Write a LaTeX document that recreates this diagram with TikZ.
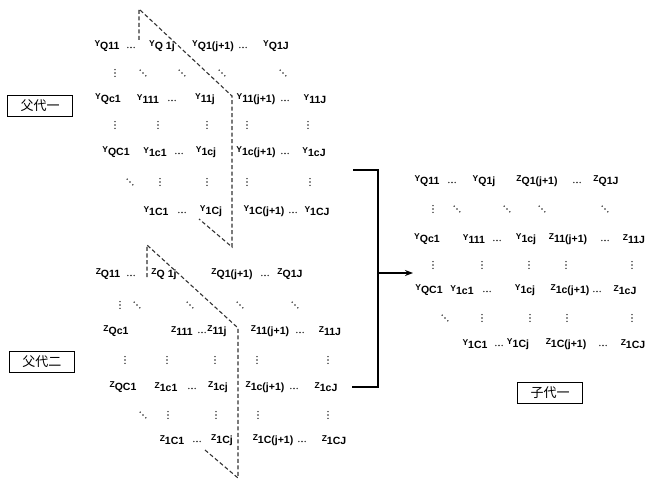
\documentclass[tikz,border=0pt]{standalone}
\usepackage{fontspec}
\setmainfont{Liberation Sans}
\newfontfamily\cjk{Noto Sans CJK SC}
\usetikzlibrary{arrows.meta}
% one matrix element: small letter with a bold, lowered index
\newcommand{\mel}[2]{{\fontsize{8.5}{9}\selectfont\bfseries #1}\raisebox{-3.4pt}{\fontsize{10.5}{11}\selectfont\bfseries #2}}
\tikzset{
  ent/.style={inner sep=0pt},
  slice/.style={draw=black!80, line width=1.1pt, dash pattern=on 4pt off 2.5pt},
  lbl/.style={draw, line width=1.2pt, minimum width=65pt, minimum height=21pt, inner sep=0pt, font=\cjk\fontsize{13}{14}\selectfont},
  link/.style={draw, line width=1.4pt},
  % ellipsis marks drawn as three small dots
  hdts/.pic={\foreach \k in {-1,0,1} \fill[black!85] (\k*3.1,1.5) circle (0.8);},
  vdts/.pic={\foreach \k in {-1,0,1} \fill[black!85] (0,\k*3.4) circle (0.8);},
  ddts/.pic={\foreach \k in {-1,0,1} \fill[black!85] (\k*2.8,\k*2.8) circle (0.8);}
}
\begin{document}
\begin{tikzpicture}[x=1pt,y=-1pt]
\useasboundingbox (0,0) rectangle (654,484);

% ---------- first parent (Y) ----------
\foreach \n/\x/\t in {a/107/{Q11}, c/162/{Q 1j}, d/213/{Q1(j+1)}, f/276/{Q1J}}
  \node[ent] (pa1\n) at (\x,46) {\mel{Y}{\t}};
\foreach \x in {131,243} \pic at (\x,46) {hdts};
\pic at (115,73) {vdts};
\foreach \x in {143,182,222,283} \pic at (\x,73) {ddts};
\foreach \n/\x/\t in {a/108/{Qc1}, b/148/{111}, d/205/{11j}, e/256/{11(j+1)}, g/315/{11J}}
  \node[ent] (pa3\n) at (\x,99) {\mel{Y}{\t}};
\foreach \x in {172,285} \pic at (\x,99) {hdts};
\foreach \x in {115,158,207,247,308} \pic at (\x,125) {vdts};
\foreach \n/\x/\t in {a/116/{QC1}, b/155/{1c1}, d/206/{1cj}, e/256/{1c(j+1)}, g/314/{1cJ}}
  \node[ent] (pa5\n) at (\x,152) {\mel{Y}{\t}};
\foreach \x in {179,285} \pic at (\x,152) {hdts};
\pic at (130,182) {ddts};
\foreach \x in {160,207,247,310} \pic at (\x,182) {vdts};
\foreach \n/\x/\t in {a/156/{1C1}, c/211/{1Cj}, d/264/{1C(j+1)}, f/317/{1CJ}}
  \node[ent] (pa7\n) at (\x,211) {\mel{Y}{\t}};
\foreach \x in {182,293} \pic at (\x,211) {hdts};

\coordinate (sa1) at (139,9);
\coordinate (sa0) at (139,40);
\coordinate (sa2) at (232,96);
\coordinate (sa3) at (232,247);
\coordinate (sa4) at (199,219);
\draw[slice] (sa0) -- (sa1) -- (sa2) -- (sa3) -- (sa4);

% ---------- second parent (Z) ----------
\foreach \n/\x/\t in {a/108/{Q11}, c/164/{Q 1j}, d/232/{Q1(j+1)}, f/290/{Q1J}}
  \node[ent] (pb1\n) at (\x,274) {\mel{Z}{\t}};
\foreach \x in {131,265} \pic at (\x,274) {hdts};
\pic at (120,305) {vdts};
\foreach \x in {137,190,240,295} \pic at (\x,305) {ddts};
\foreach \n/\x/\t in {a/116/{Qc1}, b/182/{111}, d/217/{11j}, e/270/{11(j+1)}, g/330/{11J}}
  \node[ent] (pb3\n) at (\x,331) {\mel{Z}{\t}};
\foreach \x in {202,300} \pic at (\x,331) {hdts};
\foreach \x in {125,167,215,257,328} \pic at (\x,360) {vdts};
\foreach \n/\x/\t in {a/123/{QC1}, b/166/{1c1}, d/218/{1cj}, e/265/{1c(j+1)}, g/326/{1cJ}}
  \node[ent] (pb5\n) at (\x,387) {\mel{Z}{\t}};
\foreach \x in {192,294} \pic at (\x,387) {hdts};
\pic at (143,415) {ddts};
\foreach \x in {168,216,258,328} \pic at (\x,415) {vdts};
\foreach \n/\x/\t in {a/172/{1C1}, c/222/{1Cj}, d/273/{1C(j+1)}, f/334/{1CJ}}
  \node[ent] (pb7\n) at (\x,440) {\mel{Z}{\t}};
\foreach \x in {197,302} \pic at (\x,440) {hdts};

\coordinate (sb1) at (147,245);
\coordinate (sb0) at (147,277);
\coordinate (sb2) at (238,328);
\coordinate (sb3) at (238,478);
\coordinate (sb4) at (205,450);
\draw[slice] (sb0) -- (sb1) -- (sb2) -- (sb3) -- (sb4);

% ---------- offspring ----------
\foreach \n/\x/\l/\t in {a/427/Y/{Q11}, c/484/Y/{Q1j}, d/537/Z/{Q1(j+1)}, f/606/Z/{Q1J}}
  \node[ent] (ch1\n) at (\x,181) {\mel{\l}{\t}};
\foreach \x in {452,577} \pic at (\x,181) {hdts};
\pic at (433,209) {vdts};
\foreach \x in {457,507,542,605} \pic at (\x,209) {ddts};
\foreach \n/\x/\l/\t in {a/427/Y/{Qc1}, b/474/Y/{111}, d/526/Y/{1cj}, e/568/Z/{11(j+1)}, g/634/Z/{11J}}
  \node[ent] (ch3\n) at (\x,239) {\mel{\l}{\t}};
\foreach \x in {497,605} \pic at (\x,239) {hdts};
\foreach \x in {433,482,529,566,632} \pic at (\x,265) {vdts};
\foreach \n/\x/\l/\t in {a/429/Y/{QC1}, b/462/Y/{1c1}, d/525/Y/{1cj}, e/570/Z/{1c(j+1)}, g/625/Z/{1cJ}}
  \node[ent] (ch5\n) at (\x,290) {\mel{\l}{\t}};
\foreach \x in {487,597} \pic at (\x,290) {hdts};
\pic at (445,318) {ddts};
\foreach \x in {482,530,567,632} \pic at (\x,318) {vdts};
\foreach \n/\x/\l/\t in {a/475/Y/{1C1}, c/518/Y/{1Cj}, d/566/Z/{1C(j+1)}, f/633/Z/{1CJ}}
  \node[ent] (ch7\n) at (\x,344) {\mel{\l}{\t}};
\foreach \x in {499,603} \pic at (\x,344) {hdts};

% ---------- labels ----------
\node[lbl] (fa) at (40,106) {父代一};
\node[lbl] (fb) at (42,362) {父代二};
\node[lbl] (ca) at (550,393) {子代一};

% ---------- crossover bracket ----------
\coordinate (ba) at (353,170);
\coordinate (bb) at (352,387);
\coordinate (bj) at (378,273);
\coordinate (be) at (413,273);
\draw[link] (ba) -| (bj) |- (bb);
\draw[link, -{Stealth[length=8pt,width=6pt]}] (bj) -- (be);
\end{tikzpicture}
\end{document}
